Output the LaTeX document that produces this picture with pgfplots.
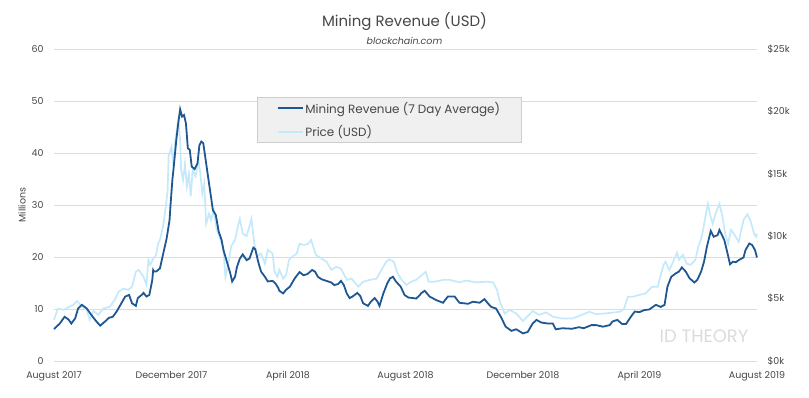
\documentclass[border=0pt]{standalone}
\usepackage{pgfplots}
\pgfplotsset{compat=1.18}
\usepackage{pgfplotstable}
\usepackage{fontspec}
\setmainfont{Poppins}
\definecolor{revblue}{RGB}{30,87,145}
\definecolor{pricelt}{RGB}{196,233,250}
\definecolor{gridc}{RGB}{220,220,220}
\definecolor{txt}{RGB}{70,70,70}
\definecolor{legfill}{RGB}{240,240,240}
\definecolor{legdraw}{RGB}{205,205,205}

% day since 1 Aug 2017, mining revenue (millions USD, 7-day average)
\pgfplotstableread{
day rev
0 6.15
6 7.2
11 8.5
15 8.0
18 7.2
22 8.2
25 10.1
29 10.8
34 10.1
39 8.8
44 7.6
48 6.8
53 7.6
57 8.3
61 8.5
65 9.5
69 10.8
74 12.4
78 12.7
81 11.1
85 10.6
87 12.1
91 12.7
93 13.1
96 12.4
99 12.7
102 15.5
103 17.5
104 17.2
106 17.2
110 17.8
113 20.3
117 23.6
120 27.1
121 30.0
123 35.0
124 36.7
127 42.5
129 45.7
131 48.4
133 47.0
135 47.3
137 45.7
139 40.9
141 40.6
143 37.4
146 36.9
149 38.0
151 41.5
153 42.2
155 41.9
157 39.3
160 35.4
163 31.6
165 29.0
168 28.1
171 24.9
174 23.3
176 21.3
180 18.8
183 16.9
185 15.3
188 16.2
190 18.1
193 19.7
196 20.5
200 19.4
203 19.7
207 21.8
209 21.5
212 19.1
215 17.2
219 16.2
222 15.3
227 15.4
230 14.9
233 14.0
234 13.5
238 13.0
241 13.7
245 14.3
250 15.9
255 17.1
259 16.5
263 16.7
268 17.5
271 17.2
274 16.2
278 15.7
283 15.4
288 15.1
291 14.6
295 14.8
298 15.4
301 14.6
304 13.0
307 12.1
310 12.4
315 13.1
318 12.5
321 11.1
326 10.6
329 11.4
333 12.1
336 11.4
338 10.6
342 13.0
346 14.9
349 15.9
352 16.2
355 15.3
360 14.3
364 12.7
368 12.2
373 12.1
376 12.0
380 12.7
381 13.0
385 13.5
390 12.4
397 11.7
404 11.2
409 12.4
416 12.4
421 11.2
430 11.0
435 11.4
442 11.2
447 11.9
450 11.2
454 10.4
459 10.1
464 8.5
469 6.6
475 5.8
480 6.1
487 5.3
492 5.6
497 7.2
501 7.9
506 7.4
513 7.2
518 7.2
521 6.1
528 6.3
538 6.2
545 6.5
550 6.3
558 6.9
563 6.9
570 6.6
577 6.9
580 7.6
585 7.9
590 7.1
594 7.1
599 8.5
603 9.5
608 9.4
613 9.8
618 9.9
625 10.8
630 10.4
634 10.8
637 14.3
641 16.2
646 16.9
649 17.2
652 18.0
656 17.2
660 15.9
665 15.1
668 15.6
672 17.2
675 19.1
678 22.0
682 25.0
685 23.9
689 24.2
691 25.2
696 23.3
699 21.0
702 18.6
705 19.1
708 19.0
711 19.4
716 19.9
718 21.3
722 22.6
725 22.3
728 21.3
730 19.9
}\revtable

% day since 1 Aug 2017, price (thousand USD)
\pgfplotstableread{
day price
0 3.3
4 4.2
10 4.1
15 4.3
20 4.5
24 4.8
29 4.35
34 4.1
37 3.3
41 4.0
46 3.7
51 4.2
58 4.35
63 4.9
67 5.55
72 5.8
77 5.7
81 5.95
85 7.15
88 7.3
93 6.75
96 6.1
98 8.1
100 7.7
103 8.2
106 8.5
108 9.4
110 9.7
113 10.7
116 12.3
118 13.7
119 16.4
122 17.2
124 15.6
126 17.7
129 19.3
131 17.7
132 15.3
134 14.5
136 15.8
138 14.0
140 15.0
142 13.2
144 15.3
147 14.8
150 16.1
152 15.0
154 13.4
156 14.2
158 11.0
161 11.8
163 11.3
166 12.1
169 10.5
172 10.0
176 8.9
178 6.75
181 7.8
184 9.2
188 9.7
191 10.8
193 11.4
196 10.2
200 10.0
203 10.8
205 11.4
208 9.4
211 8.4
215 8.6
219 7.8
222 8.9
227 8.6
229 7.15
232 6.75
234 7.3
238 6.6
241 6.9
244 8.1
248 8.4
252 8.6
255 9.4
260 9.3
264 9.4
267 9.7
269 9.2
272 8.5
278 8.2
283 7.95
288 7.3
293 7.55
298 7.4
304 6.5
309 6.6
316 5.95
321 6.35
328 6.5
335 6.6
340 7.3
345 7.95
348 8.15
353 7.95
356 7.15
361 6.5
366 6.1
371 6.35
376 6.5
380 6.75
386 7.15
389 6.35
395 6.35
404 6.5
411 6.5
421 6.3
428 6.45
438 6.3
449 6.35
456 6.3
460 5.7
463 4.75
468 3.8
473 4.1
480 3.8
487 3.2
492 3.6
497 4.0
504 3.7
511 3.9
518 3.55
528 3.4
538 3.4
545 3.6
556 3.95
563 3.75
570 3.8
577 3.85
588 3.95
592 4.2
596 5.15
601 5.15
608 5.3
614 5.4
621 5.95
627 5.95
629 6.6
633 7.7
635 7.95
639 7.3
642 7.8
647 8.7
649 8.1
653 8.5
657 7.8
661 7.7
666 8.1
669 9.15
672 9.8
674 10.5
677 11.8
679 12.6
681 11.8
684 11.0
687 11.8
689 12.2
691 12.6
694 11.6
697 10.2
700 9.4
703 10.5
706 10.2
711 9.55
716 11.3
720 11.75
723 11.3
727 10.2
729 9.95
730 10.2
}\pricetable

\pgfplotsset{
  base/.style={
    at={(54bp,37bp)}, anchor=south west,
    scale only axis, width=703bp, height=312bp,
    xmin=0, xmax=730,
    axis line style={draw=none},
    major tick length=0pt,
    tick label style={font=\fontsize{9.5}{11}\selectfont, text=txt},
    /pgf/number format/assume math mode=true,
    clip=false,
  },
}

\begin{document}
\begin{tikzpicture}
\useasboundingbox (0,0) rectangle (809bp,398bp);
\node[font=\fontsize{15}{18}\selectfont, text=txt] at (404.5bp,376bp) {Mining Revenue (USD)};
\node[font=\itshape\fontsize{9.5}{11}\selectfont, text=txt] at (404.5bp,357bp) {blockchain.com};

% grid, left ticks, dates
\begin{axis}[base,
  ymin=0, ymax=60, ytick={0,10,...,60},
  ymajorgrids, grid style={gridc, line width=0.9bp},
  yticklabel style={xshift=-7bp},
  xtick={0,122,243,365,487,608,730},
  xticklabels={August 2017,December 2017,April 2018,August 2018,December 2018,April 2019,August 2019},
  xticklabel style={yshift=-7bp},
  ylabel={Millions},
  ylabel style={at={(axis description cs:-0.0455,0.5)}, anchor=center, font=\fontsize{9.5}{11}\selectfont, text=txt},
]
\addplot[draw=none] coordinates {(0,0)};
\end{axis}

% price on right axis
\begin{axis}[base,
  ymin=0, ymax=25, ytick={0,5,...,25},
  yticklabels={\$0k,\$5k,\$10k,\$15k,\$20k,\$25k},
  yticklabel pos=right,
  yticklabel style={xshift=7bp},
  xtick=\empty,
]
\addplot[pricelt, line width=1.7bp] table[x=day, y=price] {\pricetable};
\end{axis}

% mining revenue on left axis
\begin{axis}[base,
  ymin=0, ymax=60, ytick=\empty, xtick=\empty,
  legend cell align=left,
  legend image code/.code={\draw[#1] (0bp,0bp) -- (25bp,0bp);},
  legend style={at={(axis description cs:0.289,0.846)}, anchor=north west,
    draw=legdraw, fill=legfill, line width=0.8bp,
    font=\fontsize{12}{13}\selectfont, text=txt,
    inner xsep=20bp, inner ysep=2.5bp, row sep=7bp,
    nodes={inner xsep=1bp}},
]
\addplot[revblue, line width=1.8bp] table[x=day, y=rev] {\revtable};
\addlegendentry{Mining Revenue (7 Day Average)}
\addlegendimage{pricelt, line width=1.7bp}
\addlegendentry{Price (USD)}
\end{axis}

\node[font=\fontsize{18}{20}\selectfont, text=gray!28] at (704bp,62bp) {ID THEORY};
\end{tikzpicture}
\end{document}
